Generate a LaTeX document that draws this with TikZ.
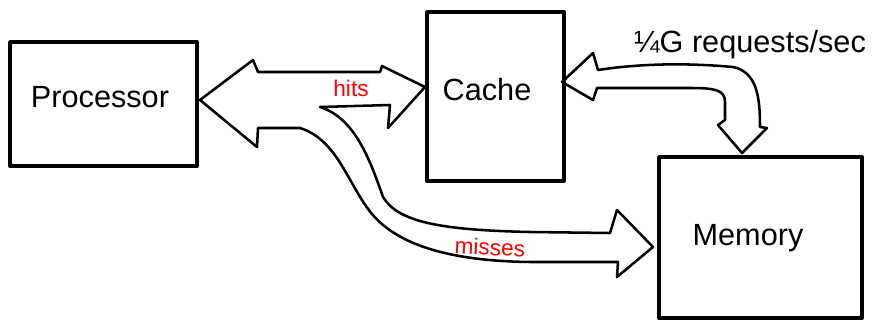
\documentclass[tikz,border=0pt]{standalone}
\usepackage{fontspec}
\setmainfont{Liberation Sans}
\begin{document}
\begin{tikzpicture}[x=0.75pt,y=-0.75pt,
  boxstyle/.style={draw,line width=2.9pt,line join=round},
  outl/.style={draw,line width=1.9pt,line join=round,line cap=round},
  lbl/.style={font=\fontsize{23}{27}\selectfont},
  redlbl/.style={text=red,font=\fontsize{17}{20}\selectfont}]
\useasboundingbox (0,0) rectangle (874,328);
% boxes
\draw[boxstyle] (10,42) rectangle (197,166);
\draw[boxstyle] (427,12) rectangle (564,181);
\draw[boxstyle] (659,157) rectangle (862,318);
\node[lbl] (proc) at (100,97) {Processor};
\node[lbl] (cache) at (487,90) {Cache};
\node[lbl] (mem) at (748,238) {Memory};
% hits / misses arrow
\draw[outl] (200,100) -- (253,60) -- (258,72) -- (380,72) -- (382,66) -- (425,87)
  -- (388,128) -- (390,105) -- (320,107)
  .. controls (355,118) and (370,160) .. (383,197)
  .. controls (398,222) and (440,230) .. (530,232) -- (610,233)
  -- (617,210) -- (653,247) -- (617,277) -- (618,262) -- (530,262)
  .. controls (450,261) and (398,245) .. (372,214)
  .. controls (348,185) and (338,140) .. (300,128)
  -- (258,128) -- (257,147) -- cycle;
% cache / memory arrow
\draw[outl] (562,82) -- (593,53) -- (598,70)
  .. controls (650,62) and (700,64) .. (733,67)
  .. controls (758,72) and (760,100) .. (760,127)
  -- (767,128) -- (742,153) -- (718,125) -- (725,120) -- (725,102)
  .. controls (725,90) and (715,88) .. (690,88) -- (597,88) -- (593,100) -- cycle;
\node[redlbl] (hits) at (351,88) {hits};
\node[redlbl,rotate=-3] (miss) at (490,247) {misses};
\node[font=\fontsize{23}{27}\selectfont] (rate) at (750,45) {¼G requests/sec};
\end{tikzpicture}
\end{document}
